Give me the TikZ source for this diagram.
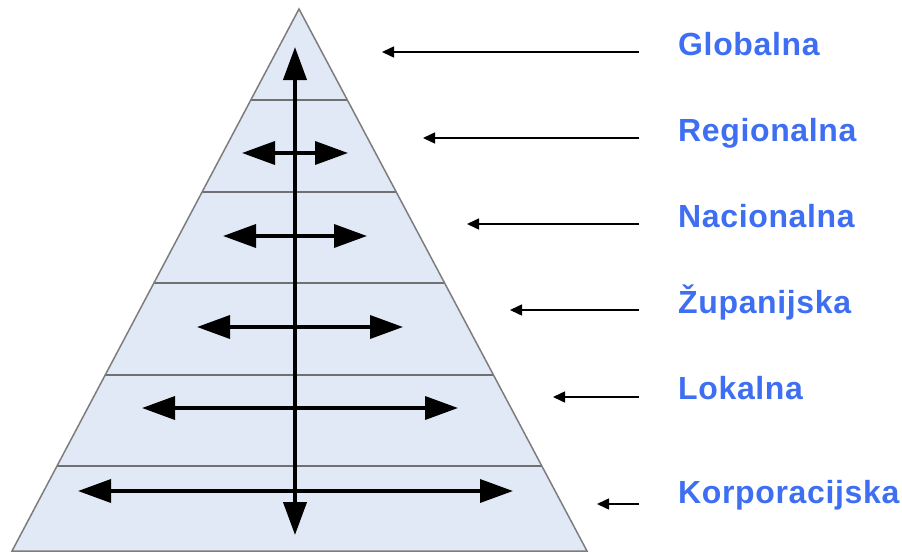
\documentclass[tikz,border=0pt]{standalone}
\usepackage{fontspec}
\setmainfont{Liberation Sans}
\usepackage{tikz}
\usetikzlibrary{calc, arrows.meta}
\definecolor{pyrfill}{RGB}{226,233,246}
\definecolor{pyredge}{RGB}{125,125,125}
\definecolor{lvlblue}{RGB}{62,110,242}

\begin{document}
\begin{tikzpicture}[x=1pt, y=-1pt,
  lvl/.style={text=lvlblue, font=\fontsize{32}{38}\selectfont\bfseries\addfontfeatures{LetterSpace=2}, inner sep=0pt},
  ptr/.style={line width=1.5pt, -{Triangle[length=12pt, width=11pt]}},
  spread/.style={line width=3.6pt, {Triangle[length=33pt, width=23pt]}-{Triangle[length=33pt, width=23pt]}}]
  \useasboundingbox (0,0) rectangle (902,554);

  % ---------- pyramid ----------
  \coordinate (apex) at (299,9);
  \coordinate (bl) at (12,551);
  \coordinate (br) at (587,551);
  \fill[pyrfill] (apex) -- (br) -- (bl) -- cycle;
  \foreach \y in {100,192,283,375,466}{
    \pgfmathsetmacro\t{(\y-9)/542}
    \draw[pyredge!90!black, line width=2pt] ($(apex)!\t!(bl)$) -- ($(apex)!\t!(br)$);}
  \draw[pyredge, line width=1.5pt, line join=miter] (apex) -- (br) -- (bl) -- cycle;

  % ---------- spreading arrows per level ----------
  \foreach \n/\y/\xa/\xb in {reg/153/242/348, nac/236/223/367, zup/327/197/403,
                             lok/408/142/458, kor/491/78/513}{
    \coordinate (w\n) at (\xa,\y);
    \coordinate (e\n) at (\xb,\y);
    \draw[spread] (w\n) -- (e\n);}

  % ---------- vertical arrow ----------
  \coordinate (vtop) at (295,47);
  \coordinate (vbot) at (295,535);
  \draw[line width=4pt, {Triangle[length=33pt, width=23pt]}-{Triangle[length=33pt, width=23pt]}] (vbot) -- (vtop);

  % ---------- level names and pointers ----------
  \foreach \n/\txt/\base/\ay/\tip in {glo/Globalna/55/52/382, reg/Regionalna/141/138/423,
                                      nac/Nacionalna/227/224/467, zup/Županijska/313/310/510,
                                      lok/Lokalna/399/397/553, kor/Korporacijska/503/504/597}{
    \node[lvl, anchor=base west] (l\n) at (678,\base) {\txt};
    \coordinate (s\n) at (639,\ay);
    \coordinate (t\n) at (\tip,\ay);
    \draw[ptr] (s\n) -- (t\n);}

\end{tikzpicture}
\end{document}
